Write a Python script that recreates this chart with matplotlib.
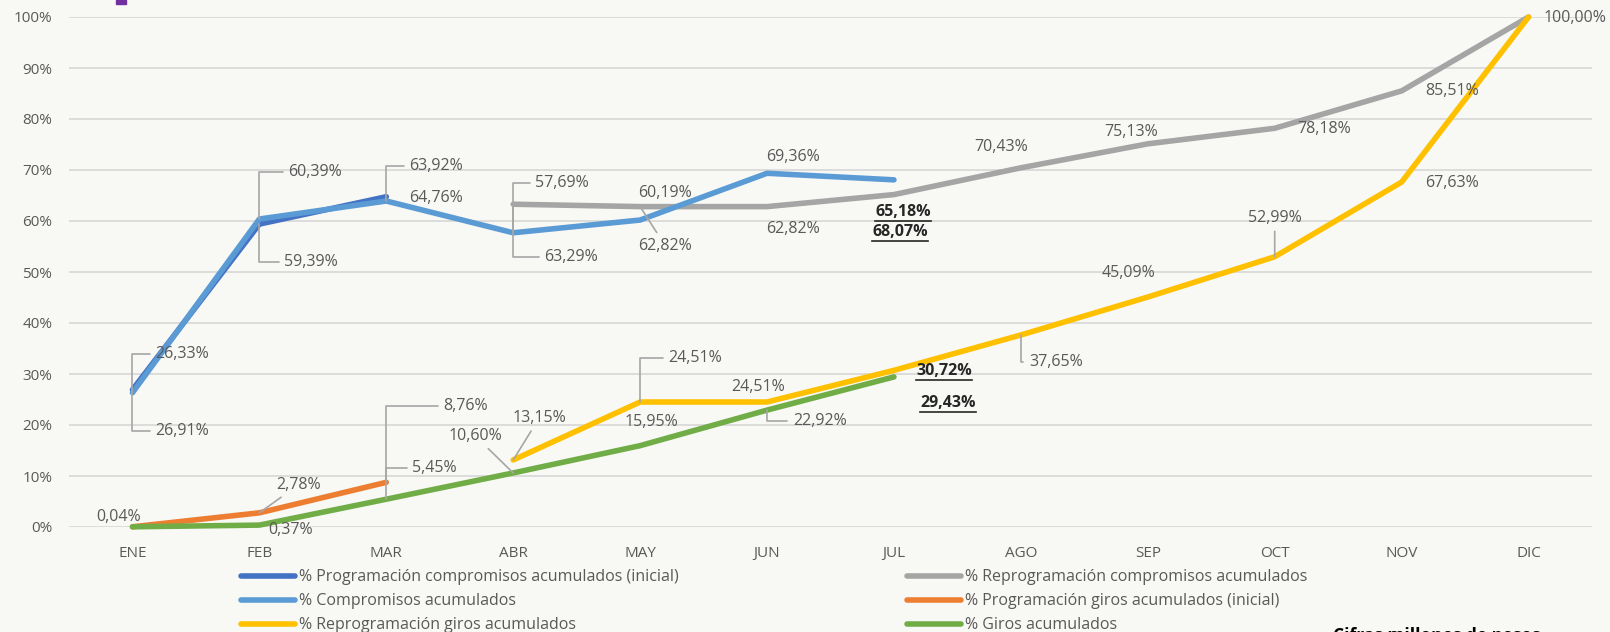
import numpy as np
import matplotlib
matplotlib.use("Agg")
import matplotlib.pyplot as plt
from matplotlib.lines import Line2D
from matplotlib.patches import Rectangle

plt.rcParams["font.family"] = ["Open Sans", "DejaVu Sans"]

months = ["ENE", "FEB", "MAR", "ABR", "MAY", "JUN", "JUL", "AGO", "SEP", "OCT", "NOV", "DIC"]
nan = np.nan

prog_comp_ini = [26.91, 59.39, 64.76] + [nan] * 9
reprog_comp = [nan, nan, nan, 63.29, 62.82, 62.82, 65.18, 70.43, 75.13, 78.18, 85.51, 100.00]
compromisos = [26.33, 60.39, 63.92, 57.69, 60.19, 69.36, 68.07] + [nan] * 5
prog_giros_ini = [0.04, 2.78, 8.76] + [nan] * 9
reprog_giros = [nan, nan, nan, 13.15, 24.51, 24.51, 30.72, 37.65, 45.09, 52.99, 67.63, 100.00]
giros = [0.04, 0.37, 5.45, 10.60, 15.95, 22.92, 29.43] + [nan] * 5

series = [
    ("% Programación compromisos acumulados (inicial)", prog_comp_ini, "#4472C4"),
    ("% Reprogramación compromisos acumulados", reprog_comp, "#A5A5A5"),
    ("% Compromisos acumulados", compromisos, "#5B9BD5"),
    ("% Programación giros acumulados (inicial)", prog_giros_ini, "#ED7D31"),
    ("% Reprogramación giros acumulados", reprog_giros, "#FFC000"),
    ("% Giros acumulados", giros, "#70AD47"),
]

# label placement: (series idx, month idx, dx px, dy px, ha, leader, bold)
labels = [
    (2, 0, 23, 39, "left", "elbow", False),
    (2, 1, 29, 47, "left", "elbow", False),
    (2, 2, 23, 35, "left", "elbow", False),
    (2, 3, 22, 50, "left", "elbow", False),
    (2, 4, 25, 27, "center", None, False),
    (2, 5, 26, 16, "center", None, False),
    (2, 6, 6, -52, "center", None, True),
    (0, 0, 23, -41, "left", "elbow", False),
    (0, 1, 25, -38, "left", "elbow", False),
    (0, 2, 23, -1, "left", None, False),
    (1, 3, 31, -53, "left", "elbow", False),
    (1, 4, 25, -39, "center", "straight", False),
    (1, 5, 26, -22, "center", None, False),
    (1, 6, 9, -17, "center", None, True),
    (1, 7, -20, 21, "center", None, False),
    (1, 8, -17, 12, "center", None, False),
    (1, 9, 49, -1, "center", None, False),
    (1, 10, 50, 0, "center", None, False),
    (1, 11, 15, -1, "left", None, False),
    (3, 0, -14, 10, "center", None, False),
    (3, 1, 39, 28, "center", "straight", False),
    (3, 2, 57, 76, "left", "elbow", False),
    (5, 1, 31, -5, "center", None, False),
    (5, 2, 26, 31, "left", "elbow", False),
    (5, 3, -38, 37, "center", "straight", False),
    (5, 4, 11, 24, "center", None, False),
    (5, 5, 26, -11, "left", "elbow", False),
    (5, 6, 54, -26, "center", None, True),
    (4, 3, 26, 42, "center", "straight", False),
    (4, 4, 28, 44, "left", "elbow", False),
    (4, 5, -9, 15, "center", None, False),
    (4, 6, 50, -1, "center", None, True),
    (4, 7, 8, -27, "left", "elbow", False),
    (4, 8, -19, 24, "center", None, False),
    (4, 9, 0, 39, "center", "straight", False),
    (4, 10, 50, -1, "center", None, False),
]

bg = "#F8F8F4"
txt = "#595959"
fig = plt.figure(figsize=(16.1, 6.32), dpi=100, facecolor=bg)
ax = fig.add_axes([69 / 1610, 105 / 632, 1523 / 1610, 510 / 632])
ax.set_facecolor(bg)

x = np.arange(len(months))
ax.set_yticks(np.arange(0, 101, 10))
ax.set_yticklabels([f"{v}%" for v in range(0, 101, 10)], fontsize=11, color=txt)
ax.set_xticks(x)
ax.set_xticklabels(months, fontsize=11, color=txt)
ax.set_xlim(-0.5, 11.5)
ax.set_ylim(0, 100)
ax.grid(axis="y", color="#D9D9D9", lw=1.3)
ax.set_axisbelow(True)
for s in ax.spines.values():
    s.set_visible(False)
ax.tick_params(axis="y", length=0, pad=12)
ax.tick_params(axis="x", length=0, pad=13.5)

handles = []
for name, vals, col in series:
    (ln,) = ax.plot(x, vals, color=col, lw=4, solid_capstyle="round",
                    solid_joinstyle="round", label=name, clip_on=False)
    handles.append(ln)

bold_texts = []
for si, mi, dx, dy, ha, leader, bold in labels:
    v = series[si][1][mi]
    s = f"{v:.2f}%".replace(".", ",")
    ap = None
    if leader == "elbow":
        ap = dict(arrowstyle="-", color="#A6A6A6", lw=1.2, shrinkA=2, shrinkB=0,
                  connectionstyle="angle,angleA=0,angleB=90,rad=0")
    elif leader == "straight":
        ap = dict(arrowstyle="-", color="#A6A6A6", lw=1.2, shrinkA=2, shrinkB=0)
    t = ax.annotate(s, (mi, v), xytext=(dx, dy), textcoords="offset pixels",
                    ha=ha, va="center", fontsize=11.5,
                    color="#262626" if bold else txt,
                    fontweight="bold" if bold else "normal",
                    arrowprops=ap, annotation_clip=False)
    if bold:
        bold_texts.append(t)

leg_kw = dict(loc="upper left", frameon=False, fontsize=11.5, labelcolor=txt,
              handlelength=3.4, handletextpad=0.25, labelspacing=0.5,
              borderpad=0, borderaxespad=0)
fig.legend([handles[0], handles[2], handles[4]],
           [series[0][0], series[2][0], series[4][0]],
           bbox_to_anchor=(241 / 1610, 0.099), **leg_kw)
fig.legend([handles[1], handles[3], handles[5]],
           [series[1][0], series[3][0], series[5][0]],
           bbox_to_anchor=(907 / 1610, 0.099), **leg_kw)

fig.text(1333 / 1610, 5 / 632, "Cifras millones de pesos", fontsize=12.5,
         fontweight="bold", color="black", va="top", ha="left")
fig.patches.append(Rectangle((116 / 1610, 1 - 4 / 632), 10 / 1610, 4 / 632,
                             transform=fig.transFigure, color="#7030A0"))

# underline the bold labels
fig.canvas.draw()
r = fig.canvas.get_renderer()
for t in bold_texts:
    bb = t.get_window_extent(r)
    y0 = bb.y0 - 1
    fig.add_artist(Line2D([bb.x0 / 1610, bb.x1 / 1610], [y0 / 632, y0 / 632],
                          transform=fig.transFigure, color=t.get_color(), lw=1.2))

fig.savefig("out.png", dpi=100, facecolor=bg)
